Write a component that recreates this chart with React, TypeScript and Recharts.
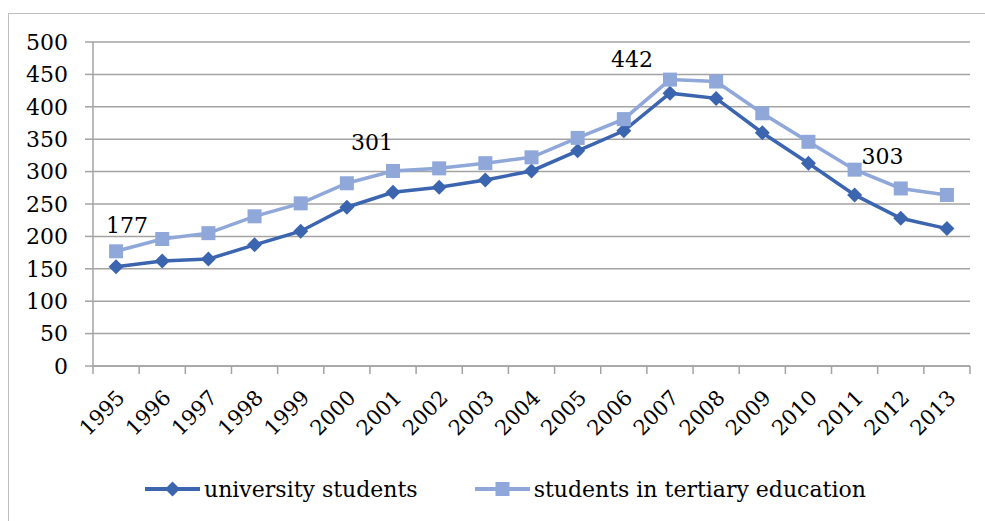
import { LineChart, Line, XAxis, YAxis, CartesianGrid, Legend, LabelList } from "recharts";

const years = ["1995", "1996", "1997", "1998", "1999", "2000", "2001", "2002", "2003", "2004", "2005", "2006", "2007", "2008", "2009", "2010", "2011", "2012", "2013"];
const universityStudents = [153, 162, 165, 187, 208, 245, 268, 276, 287, 301, 332, 363, 421, 413, 360, 313, 264, 228, 212];
const tertiaryStudents = [177, 196, 205, 231, 251, 282, 301, 305, 313, 322, 352, 381, 442, 439, 390, 346, 303, 274, 264];
const yTicks = [0, 50, 100, 150, 200, 250, 300, 350, 400, 450, 500];
// which points of the tertiary series carry a value label, and where it sits
const labelOffsets: Record<number, [number, number]> = { 0: [11, -26], 6: [-21, -28], 12: [-38, -20], 16: [28, -13] };

const DARK = "#3C65AF";
const LIGHT = "#8FA8D9";
const GRID = "#A3A3A3";
const FONT = '"DejaVu Serif", "Liberation Serif", serif';

const W = 985;
const H = 521;
const PLOT_LEFT = 93;
const PLOT_RIGHT = 970;
const BAND = (PLOT_RIGHT - PLOT_LEFT) / years.length;

const data = years.map((year, i) => ({ year, university: universityStudents[i], tertiary: tertiaryStudents[i] }));

const Diamond = ({ cx, cy }: any) =>
  cx == null ? null : <polygon points={`${cx},${cy - 7.5} ${cx + 7.5},${cy} ${cx},${cy + 7.5} ${cx - 7.5},${cy}`} fill={DARK} />;
const Square = ({ cx, cy }: any) => (cx == null ? null : <rect x={cx - 7} y={cy - 7} width={14} height={14} fill={LIGHT} />);

function YearTick({ x, y, payload, index }: any) {
  const left = x - BAND / 2;
  const tx = x + 10;
  const ty = y + 25;
  return (
    <g>
      <line x1={left} x2={left} y1={y - 8} y2={y} stroke={GRID} strokeWidth={1.5} />
      {index === years.length - 1 && <line x1={x + BAND / 2} x2={x + BAND / 2} y1={y - 8} y2={y} stroke={GRID} strokeWidth={1.5} />}
      <text x={tx} y={ty} transform={`rotate(-45 ${tx} ${ty})`} textAnchor="end" style={{ fontFamily: FONT }} fontSize={21} fill="#000">
        {payload.value}
      </text>
    </g>
  );
}

function PointLabel({ x, y, value, index }: any) {
  const off = labelOffsets[index];
  if (!off) return null;
  return (
    <text x={x + off[0]} y={y + off[1]} textAnchor="middle" dominantBaseline="central" style={{ fontFamily: FONT }} fontSize={22} fill="#000">
      {value}
    </text>
  );
}

function LegendBox() {
  const item = (color: string, marker: "d" | "s", label: string, gap: number) => (
    <div style={{ display: "flex", alignItems: "center", marginRight: gap }}>
      <svg width={55} height={20}>
        <line x1={0} x2={55} y1={10} y2={10} stroke={color} strokeWidth={4} />
        {marker === "d" ? <polygon points="27.5,2.5 35,10 27.5,17.5 20,10" fill={color} /> : <rect x={20.5} y={3} width={14} height={14} fill={color} />}
      </svg>
      <span style={{ fontFamily: FONT, fontSize: 22, marginLeft: 4 }}>{label}</span>
    </div>
  );
  return (
    <div style={{ display: "flex", alignItems: "center", height: 40, paddingLeft: 145 }}>
      {item(DARK, "d", "university students", 57)}
      {item(LIGHT, "s", "students in tertiary education", 0)}
    </div>
  );
}

export default function App() {
  return (
    <div style={{ position: "absolute", left: 0, top: 0, width: W, height: H, background: "#fff", overflow: "hidden" }}>
      <div style={{ position: "absolute", left: 8, top: 13, width: 1000, height: 600, border: "1.5px solid #BFBFBF" }} />
      <LineChart width={W} height={H} data={data} margin={{ top: 42, right: W - PLOT_RIGHT, bottom: 12, left: 0 }}>
        <CartesianGrid vertical={false} stroke={GRID} strokeWidth={1.5} />
        <XAxis
          dataKey="year"
          height={103}
          stroke={GRID}
          strokeWidth={1.5}
          tickLine={false}
          tick={<YearTick />}
          interval={0}
          padding={{ left: BAND / 2, right: BAND / 2 }}
        />
        <YAxis
          domain={[0, 500]}
          ticks={yTicks}
          width={PLOT_LEFT}
          stroke={GRID}
          strokeWidth={1.5}
          tickSize={8}
          tickMargin={17}
          tick={{ fill: "#000", style: { fontFamily: FONT }, fontSize: 22 }}
        />
        <Legend verticalAlign="bottom" align="left" wrapperStyle={{ left: 0, width: W }} content={<LegendBox />} />
        <Line dataKey="university" name="university students" stroke={DARK} strokeWidth={3.5} dot={<Diamond />} isAnimationActive={false} />
        <Line dataKey="tertiary" name="students in tertiary education" stroke={LIGHT} strokeWidth={3.5} dot={<Square />} isAnimationActive={false}>
          <LabelList dataKey="tertiary" content={<PointLabel />} />
        </Line>
      </LineChart>
    </div>
  );
}
